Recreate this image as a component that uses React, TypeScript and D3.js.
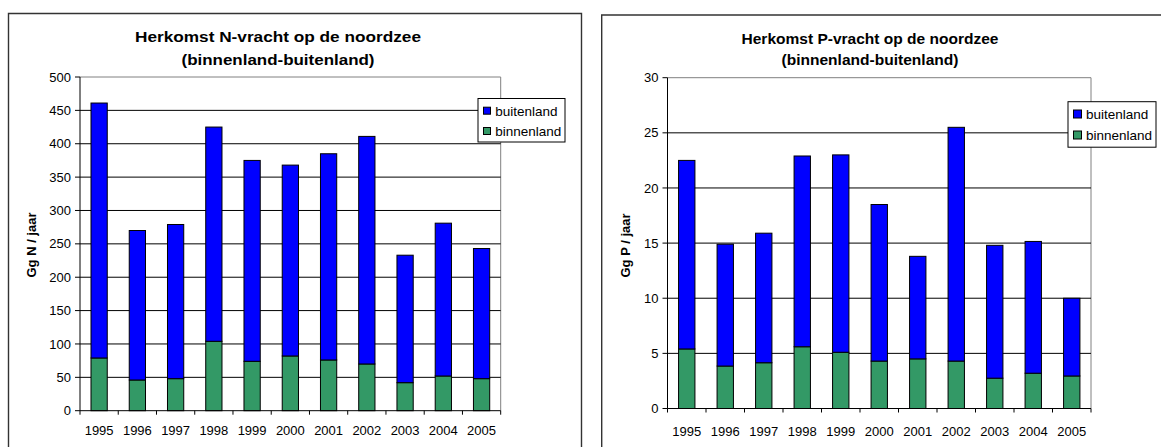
import React from 'react';
import * as d3 from 'd3';

const years = ['1995', '1996', '1997', '1998', '1999', '2000', '2001', '2002', '2003', '2004', '2005'];
const seriesNames = ['binnenland', 'buitenland'];
const nBinnenland = [79, 46, 48, 104, 74, 82, 76, 70, 42, 52, 48];
const nBuitenland = [382, 224, 231, 321, 301, 286, 309, 341, 191, 229, 195];
const pBinnenland = [5.4, 3.85, 4.15, 5.6, 5.1, 4.3, 4.5, 4.3, 2.75, 3.2, 2.95];
const pBuitenland = [17.1, 11.05, 11.75, 17.3, 17.9, 14.2, 9.3, 21.2, 12.05, 11.95, 7.05];
const nTicks = [0, 50, 100, 150, 200, 250, 300, 350, 400, 450, 500];
const pTicks = [0, 5, 10, 15, 20, 25, 30];

const COLORS: Record<string, string> = { binnenland: '#339966', buitenland: '#0000FF' };
const FONT = '"Liberation Sans", Arial, sans-serif';

type ChartProps = {
  title: [string, string];
  yLabel: string;
  binnen: number[];
  buiten: number[];
  ticks: number[];
  frame: { x: number; y: number; w: number };
  plot: { x0: number; x1: number; y0: number; y1: number };
  titleCfg: { cx: number; b1: number; b2: number; size: number; len1: number; len2: number };
  yLabelPos: { x: number; y: number };
  legend: { x: number; y: number; w: number; h: number; sw: number; row1: number; row2: number; tx: number };
  xLabelBaseline: number;
};

function Chart(p: ChartProps) {
  const data = years.map((y, i) => ({ year: y, binnenland: p.binnen[i], buitenland: p.buiten[i] }));
  const stack = d3.stack<any>().keys(seriesNames)(data);
  const x = d3.scaleBand().domain(years).range([p.plot.x0, p.plot.x1]).paddingInner(0.575).paddingOuter(0.2875);
  const y = d3.scaleLinear().domain([0, p.ticks[p.ticks.length - 1]]).range([p.plot.y0, p.plot.y1]);
  const step = x.step();
  const boundaries = d3.range(years.length + 1).map((i) => p.plot.x0 + i * step);
  return (
    <g>
      <path
        d={`M${p.frame.x},${447 + 5}V${p.frame.y}H${p.frame.x + p.frame.w}V${447 + 5}`}
        fill="none"
        stroke="#333"
        strokeWidth={1.4}
      />
      <text x={p.titleCfg.cx} y={p.titleCfg.b1} textAnchor="middle" fontFamily={FONT} fontWeight="bold" fontSize={p.titleCfg.size} textLength={p.titleCfg.len1} lengthAdjust="spacingAndGlyphs">{p.title[0]}</text>
      <text x={p.titleCfg.cx} y={p.titleCfg.b2} textAnchor="middle" fontFamily={FONT} fontWeight="bold" fontSize={p.titleCfg.size} textLength={p.titleCfg.len2} lengthAdjust="spacingAndGlyphs">{p.title[1]}</text>
      {/* plot border top/right */}
      <path d={`M${p.plot.x0},${p.plot.y1}H${p.plot.x1}V${p.plot.y0}`} fill="none" stroke="#808080" strokeWidth={1} />
      {/* gridlines */}
      {p.ticks.slice(1, -1).map((t) => (
        <line key={t} x1={p.plot.x0} x2={p.plot.x1} y1={y(t)} y2={y(t)} stroke="#000" strokeWidth={1} />
      ))}
      {/* bars */}
      {stack.map((s) => (
        <g key={s.key}>
          {s.map((d: any, i: number) => (
            <rect
              key={i}
              x={x(years[i])}
              width={x.bandwidth()}
              y={y(d[1])}
              height={y(d[0]) - y(d[1])}
              fill={COLORS[s.key]}
              stroke="#000"
              strokeWidth={1}
            />
          ))}
        </g>
      ))}
      {/* axes */}
      <line x1={p.plot.x0} x2={p.plot.x0} y1={p.plot.y1} y2={p.plot.y0} stroke="#000" strokeWidth={1} />
      <line x1={p.plot.x0} x2={p.plot.x1} y1={p.plot.y0} y2={p.plot.y0} stroke="#000" strokeWidth={1} />
      {p.ticks.map((t) => (
        <g key={t}>
          <line x1={p.plot.x0 - 5} x2={p.plot.x0} y1={y(t)} y2={y(t)} stroke="#000" strokeWidth={1} />
          <text x={p.plot.x0 - 9} y={y(t) + 4.6} textAnchor="end" fontFamily={FONT} fontSize={13}>{t}</text>
        </g>
      ))}
      {boundaries.map((bx, i) => (
        <line key={i} x1={bx} x2={bx} y1={p.plot.y0} y2={p.plot.y0 + 4} stroke="#000" strokeWidth={1} />
      ))}
      {years.map((yr) => (
        <text key={yr} x={(x(yr) as number) + x.bandwidth() / 2} y={p.xLabelBaseline} textAnchor="middle" fontFamily={FONT} fontSize={13}>{yr}</text>
      ))}
      <text transform={`translate(${p.yLabelPos.x},${p.yLabelPos.y}) rotate(-90)`} textAnchor="middle" fontFamily={FONT} fontWeight="bold" fontSize={13}>{p.yLabel}</text>
      {/* legend */}
      <rect x={p.legend.x} y={p.legend.y} width={p.legend.w} height={p.legend.h} fill="#fff" stroke="#000" strokeWidth={1} />
      {['buitenland', 'binnenland'].map((k, i) => {
        const cy = i === 0 ? p.legend.row1 : p.legend.row2;
        return (
          <g key={k}>
            <rect x={p.legend.x + 5.5} y={cy - p.legend.sw / 2} width={p.legend.sw} height={p.legend.sw} fill={COLORS[k]} stroke="#000" strokeWidth={1} />
            <text x={p.legend.tx} y={cy + 4.8} fontFamily={FONT} fontSize={13.5}>{k}</text>
          </g>
        );
      })}
    </g>
  );
}

export default function App() {
  React.useEffect(() => {
    document.body.style.margin = '0';
  }, []);
  return (
    <svg width={1161} height={447} style={{ position: 'absolute', left: 0, top: 0, background: '#fff' }}>
      <rect x={0} y={0} width={1161} height={447} fill="#fff" />
      <Chart
        title={['Herkomst N-vracht op de noordzee', '(binnenland-buitenland)']}
        yLabel="Gg N / jaar"
        binnen={nBinnenland}
        buiten={nBuitenland}
        ticks={nTicks}
        frame={{ x: 8.5, y: 13.5, w: 573 }}
        plot={{ x0: 80, x1: 500.7, y0: 410.7, y1: 77 }}
        titleCfg={{ cx: 278, b1: 41.5, b2: 64.5, size: 15.5, len1: 286, len2: 193 }}
        yLabelPos={{ x: 35.5, y: 245 }}
        legend={{ x: 478, y: 98.5, w: 87, h: 43.5, sw: 7, row1: 110.7, row2: 131, tx: 495.3 }}
        xLabelBaseline={434.6}
      />
      <Chart
        title={['Herkomst P-vracht op de noordzee', '(binnenland-buitenland)']}
        yLabel="Gg P / jaar"
        binnen={pBinnenland}
        buiten={pBuitenland}
        ticks={pTicks}
        frame={{ x: 601.7, y: 15, w: 600 }}
        plot={{ x0: 667.5, x1: 1091, y0: 408.5, y1: 77.7 }}
        titleCfg={{ cx: 870, b1: 44, b2: 65, size: 15.5, len1: 257, len2: 177 }}
        yLabelPos={{ x: 630, y: 245.5 }}
        legend={{ x: 1068, y: 101.7, w: 88, h: 45.5, sw: 8, row1: 114, row2: 135, tx: 1086 }}
        xLabelBaseline={436}
      />
    </svg>
  );
}
